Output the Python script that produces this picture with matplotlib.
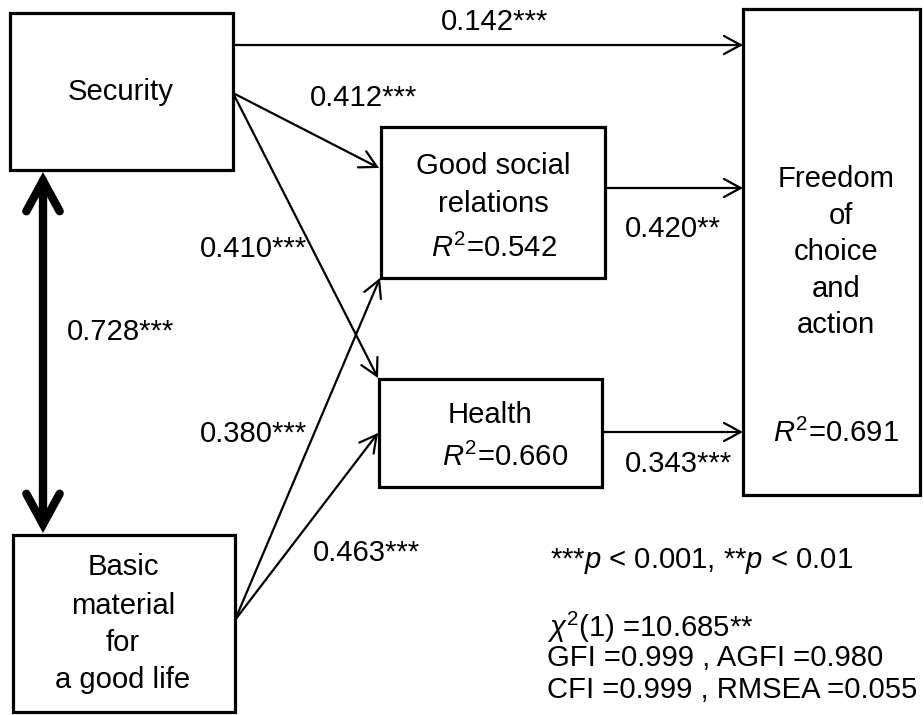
import matplotlib
matplotlib.use("Agg")
import matplotlib.pyplot as plt
from matplotlib.patches import Rectangle, FancyArrowPatch

plt.rcParams['font.family'] = ['Liberation Sans', 'DejaVu Sans']
plt.rcParams['mathtext.fontset'] = 'custom'
plt.rcParams['mathtext.rm'] = 'Liberation Sans'
plt.rcParams['mathtext.it'] = 'Liberation Sans:italic'
plt.rcParams['mathtext.default'] = 'regular'

# ---------------- data ----------------
node_names = ["Security", "Basic material for a good life", "Good social relations",
              "Health", "Freedom of choice and action"]
node_lines = [["Security"],
              ["Basic", "material", "for", "a good life"],
              ["Good social", "relations"],
              ["Health"],
              ["Freedom", "of", "choice", "and", "action"]]
r2_values = [None, None, 0.542, 0.660, 0.691]

path_from = ["Security", "Security", "Security", "Basic material for a good life",
             "Basic material for a good life", "Good social relations", "Health"]
path_to = ["Freedom of choice and action", "Good social relations", "Health",
           "Good social relations", "Health", "Freedom of choice and action",
           "Freedom of choice and action"]
path_coef = [0.142, 0.412, 0.410, 0.380, 0.463, 0.420, 0.343]
path_sig = ["***", "***", "***", "***", "***", "**", "***"]

corr_coef = 0.728
corr_sig = "***"

chi2_df = 1
chi2_value = 10.685
chi2_sig = "**"
fit_names = ["GFI", "AGFI", "CFI", "RMSEA"]
fit_values = [0.999, 0.980, 0.999, 0.055]

# ---------------- layout (pixels) ----------------
W, H = 924, 715
fig = plt.figure(figsize=(W / 100, H / 100), dpi=100)
ax = fig.add_axes([0, 0, 1, 1])
ax.set_xlim(0, W)
ax.set_ylim(H, 0)
ax.axis('off')

FS = 21.1
box_xy = {
    "Security": (10, 13, 233, 170),
    "Basic material for a good life": (13, 535, 235, 712),
    "Good social relations": (381, 127, 605, 278),
    "Health": (379, 379, 602, 487),
    "Freedom of choice and action": (743, 9, 920, 495),
}
text_pos = {
    "Security": [(121, 92)],
    "Basic material for a good life": [(123, 567), (123, 606), (123, 643), (123, 680)],
    "Good social relations": [(493, 166), (493, 204)],
    "Health": [(490, 415)],
    "Freedom of choice and action": [(836, 179), (841, 216), (836, 252), (836, 289), (836, 325)],
}
r2_pos = {"Good social relations": (494, 248), "Health": (505, 457),
          "Freedom of choice and action": (836, 433)}

for name, lines in zip(node_names, node_lines):
    x0, y0, x1, y1 = box_xy[name]
    ax.add_patch(Rectangle((x0, y0), x1 - x0, y1 - y0, fill=False,
                           edgecolor='black', linewidth=2.3, joinstyle='miter'))
    for line, (tx, ty) in zip(lines, text_pos[name]):
        ax.text(tx, ty, line, ha='center', va='center', fontsize=FS)
for name, r2 in zip(node_names, r2_values):
    if r2 is not None:
        tx, ty = r2_pos[name]
        ax.text(tx, ty, r"$\mathit{R}^{2}$" + f"={r2:.3f}", ha='center', va='center', fontsize=FS)

# path endpoints
path_pts = [((233, 45), (743, 45)),
            ((233, 93), (379, 168)),
            ((233, 93), (378, 378)),
            ((235, 620), (380, 278)),
            ((235, 620), (378, 433)),
            ((605, 188), (743, 188)),
            ((602, 432), (743, 432))]
label_pos = [(441, 22), (310, 98), (200, 249), (200, 434), (313, 553), (625, 229), (625, 464)]

for (p0, p1), coef, sig, (lx, ly) in zip(path_pts, path_coef, path_sig, label_pos):
    arr = FancyArrowPatch(p0, p1, arrowstyle="->,head_length=12,head_width=6.5",
                          mutation_scale=1, linewidth=1.6, color='black',
                          shrinkA=0, shrinkB=0, capstyle='round', joinstyle='miter')
    ax.add_patch(arr)
    ax.text(lx, ly, f"{coef:.3f}{sig}", ha='left', va='center', fontsize=FS)

# correlation double arrow
dbl = FancyArrowPatch((43, 172), (43, 533), arrowstyle="<->,head_length=22,head_width=12",
                      mutation_scale=1, linewidth=6, color='black',
                      shrinkA=0, shrinkB=0, capstyle='round', joinstyle='miter')
ax.add_patch(dbl)
ax.text(67, 332, f"{corr_coef:.3f}{corr_sig}", ha='left', va='center', fontsize=FS)

# notes
ax.text(550, 561, r"***$\mathit{p}$ < 0.001, **$\mathit{p}$ < 0.01", ha='left', va='center', fontsize=FS)
ax.text(547, 627, r"$\mathit{\chi}^{2}$" + f"({chi2_df}) ={chi2_value:.3f}{chi2_sig}",
        ha='left', va='center', fontsize=FS)
ax.text(547, 658, f"{fit_names[0]} ={fit_values[0]:.3f} , {fit_names[1]} ={fit_values[1]:.3f}",
        ha='left', va='center', fontsize=FS)
ax.text(547, 690, f"{fit_names[2]} ={fit_values[2]:.3f} , {fit_names[3]} ={fit_values[3]:.3f}",
        ha='left', va='center', fontsize=FS)

fig.savefig("out.png", dpi=100, facecolor='white')
